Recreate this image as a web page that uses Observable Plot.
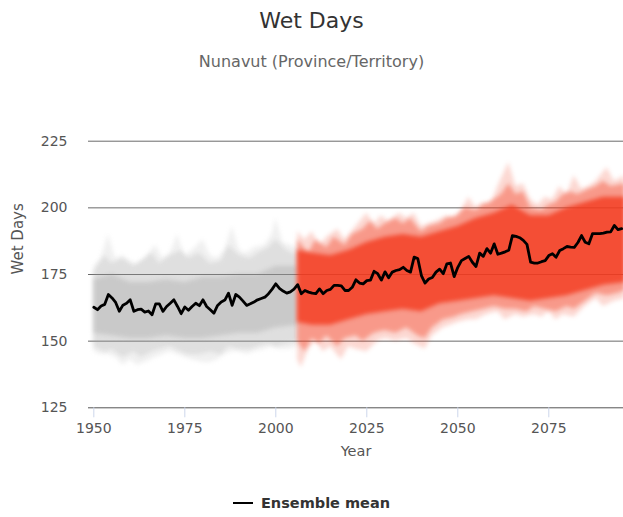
<!DOCTYPE html>
<html>
<head>
<meta charset="utf-8">
<script src="https://cdn.jsdelivr.net/npm/d3@7"></script>
<script src="https://cdn.jsdelivr.net/npm/@observablehq/plot@0.6"></script>
<style>
  html, body { margin: 0; padding: 0; background: #fff; }
  #chart { position: relative; width: 623px; height: 517px; font-family: "DejaVu Sans", sans-serif; }
  #title { position: absolute; left: 0; top: 7px; width: 623px; text-align: center; font-size: 22px; line-height: 28px; color: #333; }
  #subtitle { position: absolute; left: 0; top: 52px; width: 623px; text-align: center; font-size: 16px; line-height: 20px; color: #666; }
  #plot { position: absolute; left: 0; top: 100px; }
  #legend { position: absolute; left: 0; top: 494px; width: 623px; text-align: center; font-size: 14.5px; line-height: 18px; font-weight: bold; color: #333; }
  #legend .swatch { display: inline-block; width: 20px; height: 2.5px; background: #000; vertical-align: middle; margin-right: 8px; position: relative; top: -1px; }
</style>
</head>
<body>
<div id="chart">
  <div id="title">Wet Days</div>
  <div id="subtitle">Nunavut (Province/Territory)</div>
  <div id="plot"></div>
  <div id="legend"><span class="swatch"></span>Ensemble mean</div>
</div>
<script>
// Axis ticks
const yTicks = [125, 150, 175, 200, 225];
const xTicks = [1950, 1975, 2000, 2025, 2050, 2075];

// Ensemble mean, one value per year from 1950
const meanStart = 1950;
const meanValues = [
  162.7, 161.8, 163.2, 163.8, 167.5, 166.2, 164.5, 161.2, 163.5, 164.2, // 1950s
  165.5, 161.2, 161.8, 162.0, 160.9, 161.3, 159.9, 164.0, 164.0, 161.2, // 1960s
  163.0, 164.2, 165.5, 163.0, 160.3, 162.8, 161.6, 163.0, 164.2, 163.3, // 1970s
  165.5, 163.0, 161.8, 160.5, 163.4, 164.7, 165.4, 168.0, 163.4, 167.5, // 1980s
  166.5, 165.0, 163.4, 164.0, 164.7, 165.5, 166.0, 166.5, 167.8, 169.5, // 1990s
  171.5, 169.8, 168.8, 168.0, 168.5, 169.5, 171.2, 167.8, 169.0, 168.4, // 2000s
  168.0, 167.8, 169.6, 167.8, 169.0, 169.4, 170.9, 170.9, 170.7, 169.0, // 2010s
  169.0, 170.2, 173.0, 171.8, 171.5, 172.7, 172.9, 176.2, 175.3, 172.9, // 2020s
  176.0, 173.8, 175.9, 176.5, 176.8, 177.7, 176.5, 175.9, 181.5, 181.0, // 2030s
  174.6, 171.8, 173.3, 173.9, 175.9, 177.0, 175.3, 179.0, 179.3, 174.2, // 2040s
  177.7, 180.2, 181.0, 181.8, 179.6, 178.0, 183.0, 181.8, 184.7, 183.0, // 2050s
  186.5, 182.6, 183.0, 183.5, 184.1, 189.6, 189.3, 188.8, 187.8, 186.3, // 2060s
  179.6, 179.3, 179.3, 179.8, 180.2, 182.1, 182.8, 181.5, 184.0, 184.7, // 2070s
  185.5, 185.3, 185.2, 187.0, 189.6, 187.1, 186.5, 190.3, 190.3, 190.3, // 2080s
  190.5, 190.9, 191.0, 193.4, 191.8, 192.2                              // 2090s
];

// Historical ensemble spread (grey), from the faint extremes inwards
const histOuterYears = [1950, 1952, 1954, 1956, 1958, 1960, 1962, 1964, 1967, 1969, 1971, 1973, 1975, 1977, 1980, 1982, 1984, 1986, 1988, 1990, 1992, 1994, 1997, 1999, 2000, 2002, 2004, 2006];
const histOuterHi    = [178, 181, 190, 181, 182, 180, 179, 181, 186, 181, 183, 190, 182, 184, 188, 182, 181, 184, 193, 184, 183, 185, 186, 190, 196, 187, 186, 185];
const histOuterLo    = [146, 145, 145, 144, 141, 143, 141, 142, 144, 145, 146, 145, 144, 143, 142, 142, 143, 145, 146, 146, 145, 146, 147, 148, 147, 147, 147, 148];
const histMidYears = [1950, 1953, 1955, 1958, 1961, 1963, 1966, 1968, 1971, 1974, 1976, 1979, 1982, 1985, 1987, 1990, 1993, 1995, 1998, 2000, 2003, 2006];
const histMidHi    = [176, 182, 179, 181, 178, 180, 183, 179, 182, 184, 181, 183, 179, 180, 186, 182, 181, 183, 185, 188, 184, 182];
const histMidLo    = [148, 146, 147, 144, 146, 144, 146, 147, 148, 146, 145, 145, 146, 145, 148, 147, 147, 148, 149, 148, 149, 150];
const histCoreYears = [1950, 1955, 1960, 1965, 1970, 1975, 1980, 1985, 1990, 1995, 2000, 2006];
const histCoreHi    = [173, 175, 172, 172, 173, 172, 174, 174, 175, 175, 178, 178];
const histCoreLo    = [153, 152, 151, 151, 152, 151, 151, 152, 153, 153, 155, 156];

// Projected ensemble spread (red), from the faint extremes inwards
const projOuterYears = [2006, 2008, 2010, 2012, 2014, 2017, 2019, 2022, 2025, 2027, 2029, 2031, 2034, 2036, 2038, 2040, 2042, 2044, 2047, 2049, 2051, 2053, 2055, 2057, 2059, 2061, 2064, 2066, 2068, 2070, 2072, 2074, 2076, 2078, 2080, 2082, 2084, 2086, 2088, 2091, 2093, 2096];
const projOuterHi    = [191, 188, 191, 186, 189, 192, 188, 193, 198, 194, 197, 195, 198, 196, 198, 193, 194, 195, 197, 196, 199, 204, 200, 202, 201, 208, 217, 208, 209, 203, 201, 204, 203, 208, 205, 212, 207, 208, 210, 215, 210, 212];
const projOuterLoYears = [2006, 2007, 2009, 2011, 2013, 2015, 2018, 2020, 2022, 2025, 2028, 2030, 2033, 2036, 2038, 2041, 2043, 2046, 2048, 2050, 2053, 2055, 2058, 2061, 2063, 2066, 2068, 2071, 2073, 2075, 2077, 2079, 2082, 2085, 2088, 2090, 2093, 2096];
const projOuterLo      = [143, 140, 147, 150, 146, 148, 143, 148, 147, 146, 150, 151, 150, 151, 149, 147, 152, 155, 156, 157, 158, 158, 160, 161, 158, 160, 159, 160, 159, 161, 158, 160, 159, 163, 166, 163, 165, 166];
const projMidHiYears = [2006, 2009, 2011, 2014, 2016, 2019, 2021, 2024, 2026, 2028, 2030, 2033, 2035, 2037, 2040, 2042, 2045, 2047, 2050, 2052, 2055, 2057, 2060, 2062, 2064, 2066, 2068, 2070, 2073, 2075, 2077, 2079, 2081, 2083, 2086, 2088, 2090, 2092, 2096];
const projMidHi      = [188, 183, 188, 185, 189, 186, 190, 192, 195, 192, 194, 196, 194, 196, 191, 193, 194, 196, 197, 200, 199, 201, 203, 205, 209, 205, 206, 200, 199, 201, 202, 205, 206, 205, 207, 208, 210, 208, 209];
const projMidLoYears = [2006, 2008, 2010, 2012, 2014, 2017, 2019, 2022, 2024, 2027, 2030, 2033, 2036, 2039, 2041, 2043, 2046, 2049, 2051, 2054, 2057, 2060, 2063, 2066, 2069, 2071, 2074, 2077, 2080, 2082, 2085, 2088, 2091, 2094, 2096];
const projMidLo      = [150, 146, 151, 149, 152, 148, 151, 152, 150, 153, 154, 153, 155, 152, 151, 155, 158, 159, 160, 161, 162, 163, 162, 162, 161, 163, 162, 161, 163, 162, 165, 168, 167, 168, 169];
const projCoreYears = [2006, 2010, 2015, 2020, 2025, 2030, 2035, 2040, 2045, 2050, 2055, 2060, 2065, 2070, 2075, 2080, 2085, 2090, 2096];
const projCoreHi    = [184, 183, 182, 184, 187, 189, 190, 189, 191, 193, 196, 198, 201, 197, 197, 200, 202, 204, 204];
const projCoreLo    = [157, 156, 156, 158, 160, 161, 162, 161, 164, 165, 166, 167, 166, 165, 166, 167, 169, 171, 172];

// Tables for the marks
const mean = meanValues.map((v, i) => ({year: meanStart + i, value: v}));
const band = (years, lo, hi) => years.map((year, i) => ({year, lo: lo[i], hi: hi[i]}));
// joins an upper and a lower outline that were read at different years
const outline = (years, values) => years.map((year, i) => ({year, v: values[i]}));
const valueAt = (pts, y) => {
  const i = d3.bisector(d => d.year).left(pts, y);
  if (pts[i] && pts[i].year === y) return pts[i].v;
  const a = pts[Math.max(0, i - 1)], b = pts[Math.min(pts.length - 1, i)];
  return a.year === b.year ? a.v : a.v + (b.v - a.v) * (y - a.year) / (b.year - a.year);
};
const band2 = (loYears, lo, hiYears, hi) => {
  const bottom = outline(loYears, lo), top = outline(hiYears, hi);
  const years = Array.from(new Set([...loYears, ...hiYears])).sort((a, b) => a - b);
  return years.map(year => ({year, lo: valueAt(bottom, year), hi: valueAt(top, year)}));
};

const histOuter = band(histOuterYears, histOuterLo, histOuterHi);
const histMid = band(histMidYears, histMidLo, histMidHi);
const histCore = band(histCoreYears, histCoreLo, histCoreHi);
const projOuter = band2(projOuterLoYears, projOuterLo, projOuterYears, projOuterHi);
const projMid = band2(projMidLoYears, projMidLo, projMidHiYears, projMidHi);
const projCore = band(projCoreYears, projCoreLo, projCoreHi);

const grey = "#999999";
const red = "#f23b1f";
const area = (data, fill, opacity) => Plot.areaY(data, {x: "year", y1: "lo", y2: "hi", fill, fillOpacity: opacity, clip: true});

const chart = Plot.plot({
  width: 623,
  height: 380,
  marginLeft: 88,
  marginRight: 0,
  marginTop: 40.7,
  marginBottom: 72.7,
  style: {fontFamily: "DejaVu Sans, sans-serif", background: "transparent"},
  x: {domain: [1948.54, 2095.52], axis: null},
  y: {domain: [125, 225], axis: null},
  marks: [
    Plot.ruleY(yTicks.filter(t => t > 125), {stroke: "#6a6a6a", strokeWidth: 1}),
    area(histOuter, grey, 0.15),
    area(histMid, grey, 0.2),
    area(histCore, grey, 0.3),
    area(projOuter, red, 0.2),
    area(projMid, red, 0.4),
    area(projCore, red, 0.8),
    Plot.ruleY([125], {stroke: "#555", strokeWidth: 1}),
    Plot.axisX(xTicks, {tickSize: 10, stroke: "#ccd6eb", fill: "#555", fontSize: 14, tickPadding: 5, tickFormat: d => String(d), label: null}),
    Plot.axisY(yTicks, {tickSize: 0, tickPadding: 21, fill: "#555", fontSize: 14, tickFormat: d => String(d), label: null}),
    Plot.text(["Year"], {frameAnchor: "bottom", dy: 48, fill: "#555", fontSize: 14.5}),
    Plot.text(["Wet Days"], {frameAnchor: "left", rotate: -90, dx: -70, fill: "#555", fontSize: 15}),
    Plot.line(mean, {x: "year", y: "value", stroke: "#000", strokeWidth: 2.8, strokeLinejoin: "round", clip: true})
  ]
});

document.getElementById("plot").appendChild(chart);

// soften the edges of the ensemble spread
chart.querySelectorAll('g[aria-label="area"]').forEach(g => { g.style.filter = "blur(2px)"; });
</script>
</body>
</html>
